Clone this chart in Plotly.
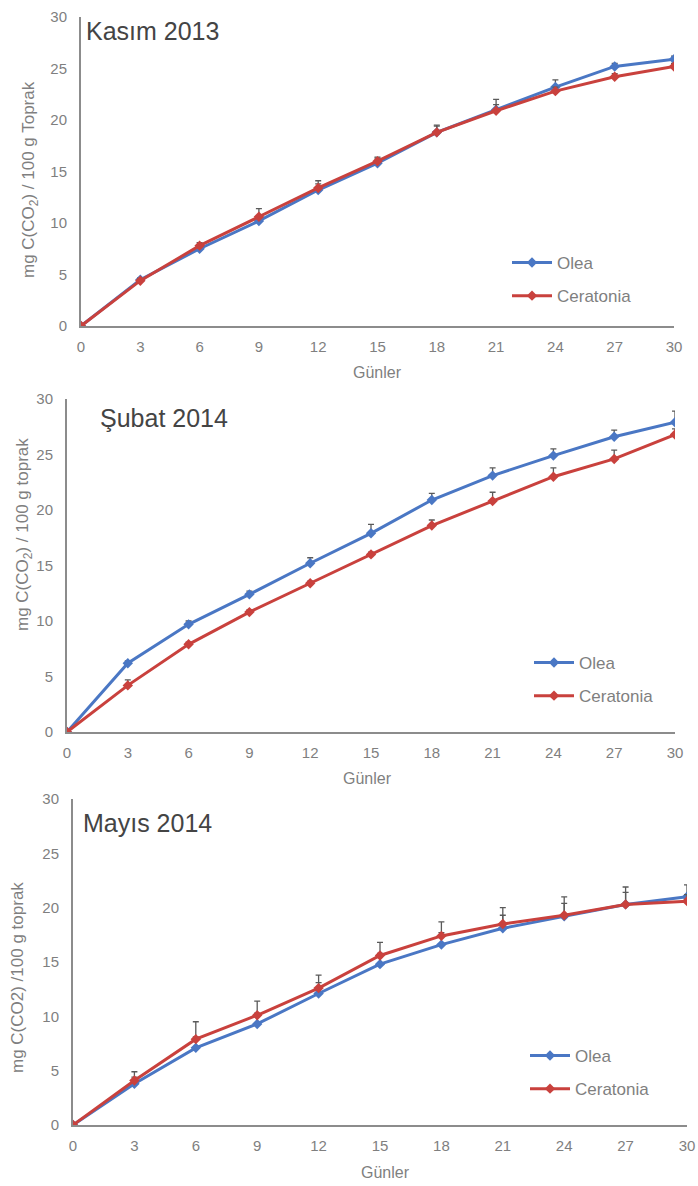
import plotly.graph_objects as go

W, H = 698, 1186

days = [0, 3, 6, 9, 12, 15, 18, 21, 24, 27, 30]
tick_vals = [0, 5, 10, 15, 20, 25, 30]

# Kasım 2013
olea_kasim = [0, 4.5, 7.5, 10.2, 13.2, 15.8, 18.8, 21.0, 23.2, 25.2, 25.9]
olea_kasim_err = [0, 0.2, 0.3, 0.5, 0.6, 0.5, 0.7, 1.0, 0.7, 0.3, 0.3]
cer_kasim = [0, 4.4, 7.8, 10.6, 13.4, 16.0, 18.8, 20.9, 22.8, 24.2, 25.2]
cer_kasim_err = [0, 0.2, 0.3, 0.8, 0.7, 0.4, 0.6, 0.6, 0.4, 0.3, 0.3]

# Şubat 2014
olea_subat = [0, 6.2, 9.7, 12.4, 15.2, 17.9, 20.9, 23.1, 24.9, 26.6, 27.9]
olea_subat_err = [0, 0.2, 0.3, 0.3, 0.5, 0.8, 0.6, 0.7, 0.6, 0.6, 1.0]
cer_subat = [0, 4.2, 7.9, 10.8, 13.4, 16.0, 18.6, 20.8, 23.0, 24.6, 26.8]
cer_subat_err = [0, 0.5, 0.2, 0.2, 0.2, 0.2, 0.5, 0.8, 0.8, 0.8, 0.5]

# Mayıs 2014
olea_mayis = [0, 3.8, 7.1, 9.3, 12.1, 14.8, 16.6, 18.1, 19.2, 20.3, 21.0]
olea_mayis_err = [0, 0.6, 1.0, 1.0, 1.0, 1.0, 1.1, 1.2, 1.2, 1.1, 1.1]
cer_mayis = [0, 4.1, 7.9, 10.1, 12.6, 15.6, 17.4, 18.5, 19.3, 20.3, 20.6]
cer_mayis_err = [0, 0.8, 1.6, 1.3, 1.2, 1.2, 1.3, 1.5, 1.7, 1.6, 0.6]

BLUE = "#4a77c4"
RED = "#c9413d"
AXIS = "#8c8c8c"
TICK = "#7f7f7f"
FONT = "Liberation Sans, Arial, sans-serif"

def px_x(p):
    return p / W

def px_y(p):
    return 1 - p / H

panels = [
    dict(name="Kasım 2013", olea=olea_kasim, oe=olea_kasim_err, cer=cer_kasim, ce=cer_kasim_err,
         x0=81, x1=674, top=17, bot=326,
         ytitle="mg C(CO<sub>2</sub>) / 100 g Toprak", yt_x=30, yt_y=180,
         title_x=84, title_y=31, xt_x=377, xt_y=372, leg_x=507, leg_y=245),
    dict(name="Şubat 2014", olea=olea_subat, oe=olea_subat_err, cer=cer_subat, ce=cer_subat_err,
         x0=67, x1=675, top=399, bot=732,
         ytitle="mg C(CO<sub>2</sub>) / 100 g toprak", yt_x=24, yt_y=535,
         title_x=98, title_y=418, xt_x=368, xt_y=778, leg_x=529, leg_y=645),
    dict(name="Mayıs 2014", olea=olea_mayis, oe=olea_mayis_err, cer=cer_mayis, ce=cer_mayis_err,
         x0=73, x1=687, top=799, bot=1125,
         ytitle="mg C(CO2) /100 g toprak", yt_x=17, yt_y=978,
         title_x=81, title_y=823, xt_x=385, xt_y=1172, leg_x=525, leg_y=1038),
]

fig = go.Figure()
layout = dict(
    width=W, height=H,
    margin=dict(l=0, r=0, t=0, b=0, autoexpand=False),
    paper_bgcolor="white", plot_bgcolor="white",
    font=dict(family=FONT, color=TICK),
    annotations=[],
)

for i, p in enumerate(panels, start=1):
    sfx = "" if i == 1 else str(i)
    leg = "legend" if i == 1 else f"legend{i}"
    for label, vals, errs, color in (("Olea", p["olea"], p["oe"], BLUE),
                                     ("Ceratonia", p["cer"], p["ce"], RED)):
        fig.add_trace(go.Scatter(
            x=days, y=vals, name=label, mode="lines+markers",
            line=dict(color=color, width=3),
            marker=dict(symbol="diamond", size=8, color=color),
            error_y=dict(type="data", array=errs, arrayminus=[0] * len(errs),
                         symmetric=False, color="#5a5a5a", thickness=1.3, width=3),
            xaxis=f"x{sfx}", yaxis=f"y{sfx}", legend=leg, legendgroup=f"{label}{i}",
        ))
    layout[f"xaxis{sfx}"] = dict(
        domain=[px_x(p["x0"]), px_x(p["x1"])], anchor=f"y{sfx}",
        range=[0, 30], tickvals=days, showgrid=False, zeroline=False,
        showline=True, linecolor=AXIS, linewidth=2, ticks="",
        ticklabelstandoff=6, automargin=False,
        tickfont=dict(size=15, color=TICK, family=FONT),
    )
    layout[f"yaxis{sfx}"] = dict(
        domain=[px_y(p["bot"]), px_y(p["top"])], anchor=f"x{sfx}",
        range=[0, 30], tickvals=tick_vals, showgrid=False, zeroline=False,
        showline=True, linecolor=AXIS, linewidth=2, ticks="",
        ticklabelstandoff=9, automargin=False,
        tickfont=dict(size=15, color=TICK, family=FONT),
    )
    layout[leg] = dict(
        x=px_x(p["leg_x"]), y=px_y(p["leg_y"]), xanchor="left", yanchor="top",
        bgcolor="rgba(0,0,0,0)", font=dict(size=17, color=TICK, family=FONT),
        tracegroupgap=8, itemwidth=40,
    )
    layout["annotations"] += [
        dict(text=p["name"], x=px_x(p["title_x"]), y=px_y(p["title_y"]),
             xref="paper", yref="paper", xanchor="left", yanchor="middle",
             showarrow=False, font=dict(size=25, color="#444444", family=FONT)),
        dict(text=p["ytitle"], x=px_x(p["yt_x"]), y=px_y(p["yt_y"]),
             xref="paper", yref="paper", xanchor="center", yanchor="middle",
             textangle=-90, showarrow=False, font=dict(size=17, color=TICK, family=FONT)),
        dict(text="Günler", x=px_x(p["xt_x"]), y=px_y(p["xt_y"]),
             xref="paper", yref="paper", xanchor="center", yanchor="middle",
             showarrow=False, font=dict(size=16, color=TICK, family=FONT)),
    ]

fig.update_layout(**layout)
fig.write_html("out.html")
